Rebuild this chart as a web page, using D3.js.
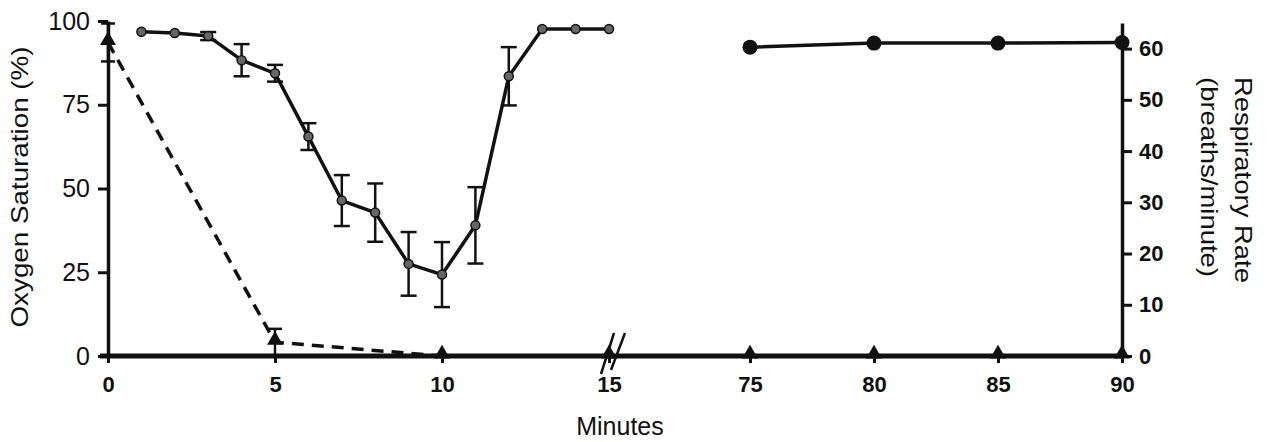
<!DOCTYPE html>
<html>
<head>
<meta charset="utf-8">
<script src="https://cdn.jsdelivr.net/npm/d3@7"></script>
<style>
  body { margin: 0; background: #fff; }
  svg text { font-family: "Liberation Sans", Arial, Helvetica, sans-serif; fill: #111; }
  .axis path, .axis line { stroke: #111; }
</style>
</head>
<body>
<div id="chart"></div>
<script>
// oxygen saturation, first phase (minutes 1-15)
var oxyMinutes = [1, 2, 3, 4, 5, 6, 7, 8, 9, 10, 11, 12, 13, 14, 15];
var oxyMean = [96.8, 96.4, 95.5, 88.3, 84.4, 65.5, 46.4, 42.8, 27.5, 24.3, 39, 83.5, 97.6, 97.6, 97.6];
var oxyErr = [0, 0, 1.2, 4.8, 2.5, 4, 7.6, 8.7, 9.5, 9.7, 11.4, 8.7, 0, 0, 0];

// oxygen saturation, recovery phase
var lateMinutes = [75, 80, 85, 90];
var lateOxy = [92.2, 93.4, 93.4, 93.6];

// respiratory rate (right axis)
var respMinutes = [0, 5, 10, 15, 75, 80, 85, 90];
var respRate = [61.2, 2.7, 0, 0, 0, 0, 0, 0];
var respErr = [3.7, 2.6, 0, 0, 0, 0, 0, 0];

var xTicks = [0, 5, 10, 15, 75, 80, 85, 90];
var leftTicks = [0, 25, 50, 75, 100];
var rightTicks = [0, 10, 20, 30, 40, 50, 60];

var fullwidth = 1268;
var fullheight = 442;

var svg = d3.select("#chart")
  .append("svg")
  .attr("width", fullwidth)
  .attr("height", fullheight);

// broken x axis: two linear pieces with a gap between 15 and 75
var xScale = d3.scaleLinear()
  .domain([0, 15, 75, 90])
  .range([108, 609, 750, 1122]);

var yLeft = d3.scaleLinear().domain([0, 100]).range([356, 21]);
var yRight = d3.scaleLinear().domain([0, 65]).range([356, 23]);

// axes
var leftAxis = svg.append("g")
  .attr("class", "axis")
  .attr("transform", "translate(" + xScale(0) + ",0)")
  .call(d3.axisLeft(yLeft).tickValues(leftTicks).tickSize(10).tickSizeOuter(0).tickPadding(8));
leftAxis.select(".domain").attr("stroke-width", 3.5);
leftAxis.selectAll(".tick line").attr("stroke-width", 3);
leftAxis.selectAll(".tick text").attr("font-size", 25).attr("fill", "#111");

var rightAxis = svg.append("g")
  .attr("class", "axis")
  .attr("transform", "translate(" + xScale(90) + ",0)")
  .call(d3.axisRight(yRight).tickValues(rightTicks).tickSize(10).tickSizeOuter(0).tickPadding(7));
rightAxis.select(".domain").attr("stroke-width", 3.5);
rightAxis.selectAll(".tick line").attr("stroke-width", 3);
rightAxis.selectAll(".tick text").attr("font-size", 22).attr("font-weight", "bold").attr("fill", "#111");

var bottomAxis = svg.append("g")
  .attr("class", "axis")
  .attr("transform", "translate(0," + yLeft(0) + ")")
  .call(d3.axisBottom(xScale).tickValues(xTicks).tickSize(7).tickSizeOuter(0).tickPadding(13));
bottomAxis.select(".domain").attr("stroke-width", 5)
  .attr("d", "M" + (xScale(0) - 8) + ",0H" + xScale(90));
bottomAxis.selectAll(".tick line").attr("stroke-width", 3);
bottomAxis.selectAll(".tick text")
  .attr("font-size", 22)
  .attr("font-weight", "bold")
  .attr("fill", function(d) { return d <= 15 ? "#4a4a4a" : "#111"; });

// axis break mark
var bx = xScale(15);
svg.append("line").attr("x1", bx - 8).attr("y1", 374).attr("x2", bx + 5).attr("y2", 333)
  .attr("stroke", "#111").attr("stroke-width", 2.5);
svg.append("line").attr("x1", bx + 2).attr("y1", 370).attr("x2", bx + 16).attr("y2", 333)
  .attr("stroke", "#111").attr("stroke-width", 2.5);

// axis titles
svg.append("text")
  .attr("transform", "translate(28,187) rotate(-90)")
  .attr("text-anchor", "middle")
  .attr("font-size", 24)
  .attr("textLength", 281)
  .attr("lengthAdjust", "spacingAndGlyphs")
  .text("Oxygen Saturation (%)");

svg.append("text")
  .attr("transform", "translate(1235,180) rotate(90)")
  .attr("text-anchor", "middle")
  .attr("font-size", 24)
  .attr("textLength", 206)
  .attr("lengthAdjust", "spacingAndGlyphs")
  .text("Respiratory Rate");

svg.append("text")
  .attr("transform", "translate(1201,177) rotate(90)")
  .attr("text-anchor", "middle")
  .attr("font-size", 24)
  .attr("textLength", 200)
  .attr("lengthAdjust", "spacingAndGlyphs")
  .text("(breaths/minute)");

svg.append("text")
  .attr("x", 620)
  .attr("y", 435)
  .attr("text-anchor", "middle")
  .attr("font-size", 25)
  .text("Minutes");

// respiratory rate: dashed line, error bars and triangles
var resp = respMinutes.map(function(m, i) {
  return { minute: m, value: respRate[i], err: respErr[i] };
});

var respLine = d3.line()
  .x(function(d) { return xScale(d.minute); })
  .y(function(d) { return yRight(d.value); });

[resp.filter(function(d) { return d.minute <= 15; }),
 resp.filter(function(d) { return d.minute >= 75; })].forEach(function(seg) {
  svg.append("path")
    .datum(seg)
    .attr("d", respLine)
    .attr("fill", "none")
    .attr("stroke", "#111")
    .attr("stroke-width", 3.5)
    .attr("stroke-dasharray", "12,8");
});

var respBars = svg.selectAll(".resp-err")
  .data(resp.filter(function(d) { return d.err > 0; }))
  .enter()
  .append("g")
  .attr("class", "resp-err");

respBars.append("line")
  .attr("x1", function(d) { return xScale(d.minute); })
  .attr("x2", function(d) { return xScale(d.minute); })
  .attr("y1", function(d) { return yRight(d.value + d.err); })
  .attr("y2", function(d) { return yRight(Math.max(0, d.value - d.err)); })
  .attr("stroke", "#111").attr("stroke-width", 2.5);

respBars.selectAll(".cap")
  .data(function(d) { return [d.value + d.err, Math.max(0, d.value - d.err)].map(function(v) { return { minute: d.minute, v: v }; }); })
  .enter()
  .append("line")
  .attr("x1", function(d) { return xScale(d.minute) - 7; })
  .attr("x2", function(d) { return xScale(d.minute) + 7; })
  .attr("y1", function(d) { return yRight(d.v); })
  .attr("y2", function(d) { return yRight(d.v); })
  .attr("stroke", "#111").attr("stroke-width", 2.5);

svg.selectAll(".tri")
  .data(resp)
  .enter()
  .append("path")
  .attr("class", "tri")
  .attr("d", d3.symbol().type(d3.symbolTriangle).size(110))
  .attr("transform", function(d) {
    return "translate(" + xScale(d.minute) + "," + (yRight(d.value) - 2) + ")";
  })
  .attr("fill", "#111");

// oxygen saturation, phase 1
var oxy = oxyMinutes.map(function(m, i) {
  return { minute: m, value: oxyMean[i], err: oxyErr[i] };
});

var oxyLine = d3.line()
  .x(function(d) { return xScale(d.minute); })
  .y(function(d) { return yLeft(d.value); });

svg.append("path")
  .datum(oxy)
  .attr("d", oxyLine)
  .attr("fill", "none")
  .attr("stroke", "#111")
  .attr("stroke-width", 3.5)
  .attr("stroke-linejoin", "round");

var oxyBars = svg.selectAll(".oxy-err")
  .data(oxy.filter(function(d) { return d.err > 0; }))
  .enter()
  .append("g")
  .attr("class", "oxy-err");

oxyBars.append("line")
  .attr("x1", function(d) { return xScale(d.minute); })
  .attr("x2", function(d) { return xScale(d.minute); })
  .attr("y1", function(d) { return yLeft(d.value + d.err); })
  .attr("y2", function(d) { return yLeft(d.value - d.err); })
  .attr("stroke", "#111").attr("stroke-width", 2.5);

oxyBars.selectAll(".cap")
  .data(function(d) { return [d.value + d.err, d.value - d.err].map(function(v) { return { minute: d.minute, v: v }; }); })
  .enter()
  .append("line")
  .attr("x1", function(d) { return xScale(d.minute) - 8; })
  .attr("x2", function(d) { return xScale(d.minute) + 8; })
  .attr("y1", function(d) { return yLeft(d.v); })
  .attr("y2", function(d) { return yLeft(d.v); })
  .attr("stroke", "#111").attr("stroke-width", 2.5);

svg.selectAll(".oxy-dot")
  .data(oxy)
  .enter()
  .append("circle")
  .attr("class", "oxy-dot")
  .attr("cx", function(d) { return xScale(d.minute); })
  .attr("cy", function(d) { return yLeft(d.value); })
  .attr("r", 4.5)
  .attr("fill", "#666")
  .attr("stroke", "#111")
  .attr("stroke-width", 1.5);

// oxygen saturation, recovery
var late = lateMinutes.map(function(m, i) { return { minute: m, value: lateOxy[i] }; });

svg.append("path")
  .datum(late)
  .attr("d", oxyLine)
  .attr("fill", "none")
  .attr("stroke", "#111")
  .attr("stroke-width", 3.5);

svg.selectAll(".late-dot")
  .data(late)
  .enter()
  .append("circle")
  .attr("class", "late-dot")
  .attr("cx", function(d) { return xScale(d.minute); })
  .attr("cy", function(d) { return yLeft(d.value); })
  .attr("r", 7.5)
  .attr("fill", "#111");
</script>
</body>
</html>
